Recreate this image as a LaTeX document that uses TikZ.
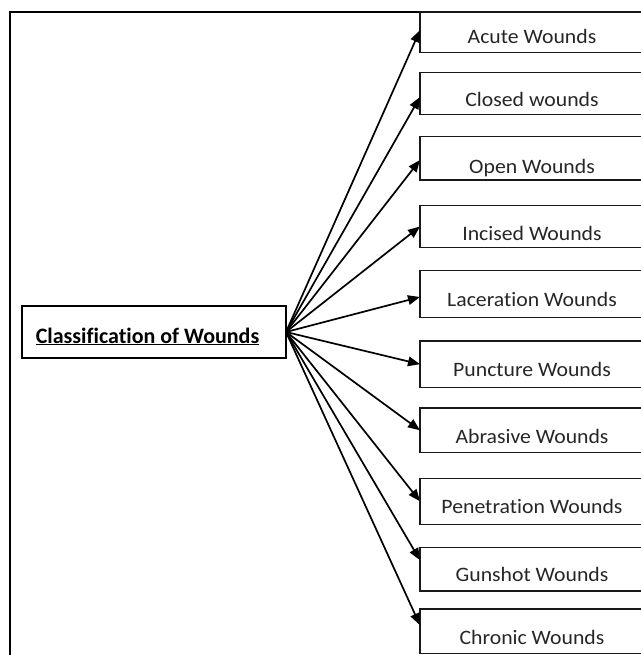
\documentclass[tikz,border=0pt]{standalone}
\usepackage{fontspec}
\setmainfont[Ligatures=NoCommon]{Carlito}
\newfontfamily\boxfont[FakeStretch=1.06,Ligatures=NoCommon]{Carlito}
\usetikzlibrary{arrows.meta}
\tikzset{
  frame/.style={draw=black, line width=1.4bp},
  box/.style={draw=black!90, line width=1.4bp, minimum width=225bp, inner sep=0pt, outer sep=0pt},
  mainbox/.style={draw=black, line width=1.4bp, minimum width=264bp, minimum height=52bp, inner sep=0pt, outer sep=0pt},
  lbl/.style={font=\boxfont\fontsize{20.5bp}{22bp}\selectfont, text=black!85, inner sep=0pt, anchor=base},
  title/.style={font=\bfseries\fontsize{22bp}{24bp}\selectfont, inner sep=0pt, anchor=base},
  arr/.style={line width=1.7bp, -{Triangle[length=12bp,width=9.5bp]}}
}
\begin{document}
\begin{tikzpicture}[x=1bp,y=-1bp]
\useasboundingbox (0,0) rectangle (641,655);
\clip (0,0) rectangle (641,655);
\draw[frame] (10,700) -- (10,12) -- (700,12);
% main box
\node[mainbox] (m) at (154,332) {};
\node[title] (mt) at (147.5,343) {\underline{Classification of Wounds}};
% right boxes
\node[box, minimum height=40.3bp] (b1) at (532.5,32.2) {};
\node[box, minimum height=42bp] (b2) at (532.5,93.3) {};
\node[box, minimum height=43.3bp] (b3) at (532.5,158.3) {};
\node[box, minimum height=41.6bp] (b4) at (532.5,226.5) {};
\node[box, minimum height=46.6bp] (b5) at (532.5,294) {};
\node[box, minimum height=46.3bp] (b6) at (532.5,364.2) {};
\node[box, minimum height=44.7bp] (b7) at (532.5,430.3) {};
\node[box, minimum height=46bp] (b8) at (532.5,501.3) {};
\node[box, minimum height=43.7bp] (b9) at (532.5,569.2) {};
\node[box, minimum height=44.3bp] (b10) at (532.5,631.2) {};
% labels
\node[lbl] (t1) at (532,43.3) {Acute Wounds};
\node[lbl] (t2) at (532,106.7) {Closed wounds};
\node[lbl] (t3) at (532,173.3) {Open Wounds};
\node[lbl] (t4) at (532,240.7) {Incised Wounds};
\node[lbl] (t5) at (532,306.7) {Laceration Wounds};
\node[lbl] (t6) at (532,376.7) {Puncture Wounds};
\node[lbl] (t7) at (532,443.3) {Abrasive Wounds};
\node[lbl] (t8) at (532,513.3) {Penetration Wounds};
\node[lbl] (t9) at (532,581.7) {Gunshot Wounds};
\node[lbl] (t10) at (532,644) {Chronic Wounds};
% arrows
\draw[arr] (m.east) -- ([yshift=2bp]b1.west);
\draw[arr] (m.east) -- ([yshift=-3.7bp]b2.west);
\draw[arr] (m.east) -- ([yshift=-1.7bp]b3.west);
\draw[arr] (m.east) -- (b4.west);
\draw[arr] (m.east) -- ([yshift=-3bp]b5.west);
\draw[arr] (m.east) -- (b6.west);
\draw[arr] (m.east) -- (b7.west);
\draw[arr] (m.east) -- (b8.west);
\draw[arr] (m.east) -- ([yshift=9bp]b9.west);
\draw[arr] (m.east) -- ([yshift=6bp]b10.west);
\end{tikzpicture}
\end{document}
